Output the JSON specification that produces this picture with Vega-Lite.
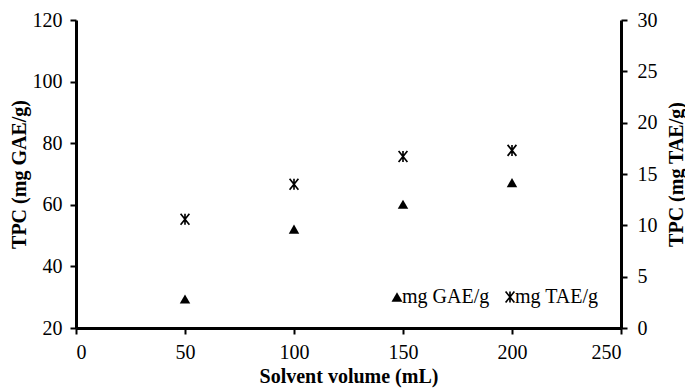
{
  "$schema": "https://vega.github.io/schema/vega-lite/v6.json",
  "width": 545,
  "height": 308,
  "autosize": {"type": "none"},
  "padding": {"left": 76, "top": 20, "right": 64, "bottom": 61},
  "background": "white",
  "config": {
    "font": "Times New Roman, Liberation Serif, serif",
    "view": {"stroke": null},
    "axis": {
      "grid": false,
      "domainColor": "black",
      "domainWidth": 3,
      "tickColor": "black",
      "tickWidth": 2,
      "tickSize": 6,
      "labelFont": "Times New Roman, Liberation Serif, serif",
      "labelFontSize": 20,
      "labelColor": "black",
      "titleFont": "Times New Roman, Liberation Serif, serif",
      "titleFontSize": 20,
      "titleFontWeight": "bold",
      "titleColor": "black"
    },
    "legend": {"labelFont": "Times New Roman, Liberation Serif, serif"}
  },
  "data": {
    "values": [
      {"vol": 50, "value": 29.4, "series": "mg GAE/g"},
      {"vol": 100, "value": 52.1, "series": "mg GAE/g"},
      {"vol": 150, "value": 60.2, "series": "mg GAE/g"},
      {"vol": 200, "value": 67.2, "series": "mg GAE/g"},
      {"vol": 50, "value": 10.6, "series": "mg TAE/g"},
      {"vol": 100, "value": 14.0, "series": "mg TAE/g"},
      {"vol": 150, "value": 16.7, "series": "mg TAE/g"},
      {"vol": 200, "value": 17.3, "series": "mg TAE/g"}
    ]
  },
  "encoding": {
    "x": {
      "field": "vol",
      "type": "quantitative",
      "scale": {"domain": [0, 250], "nice": false},
      "axis": {"values": [0, 50, 100, 150, 200, 250], "title": "Solvent volume (mL)", "labelPadding": 8, "titlePadding": 4}
    }
  },
  "layer": [
    {
      "transform": [{"filter": "datum.series === 'mg GAE/g'"}],
      "mark": {"type": "point", "filled": true, "fill": "black", "strokeWidth": 0, "opacity": 1, "size": 110},
      "encoding": {
        "y": {
          "field": "value",
          "type": "quantitative",
          "scale": {"domain": [20, 120], "nice": false, "zero": false},
          "axis": {"values": [20, 40, 60, 80, 100, 120], "title": "TPC (mg GAE/g)", "labelPadding": 8, "titlePadding": 3}
        },
        "shape": {
          "field": "series",
          "type": "nominal",
          "scale": {"domain": ["mg GAE/g", "mg TAE/g"], "range": ["triangle-up", "M-0.15,-1L0.15,-1L0.15,1L-0.15,1ZM-0.683,-1.094L0.917,0.906L0.683,1.094L-0.917,-0.906ZM-0.683,1.094L-0.917,0.906L0.683,-1.094L0.917,-0.906Z"]},
          "legend": {
            "orient": "none",
            "legendX": 311,
            "legendY": 267,
            "direction": "horizontal",
            "title": null,
            "labelFont": "Times New Roman, Liberation Serif, serif",
            "labelFontSize": 20,
            "labelColor": "black",
            "symbolSize": 120,
            "symbolFillColor": "black",
            "symbolStrokeWidth": 0,
            "symbolOpacity": 1,
            "labelOffset": -5,
            "columnPadding": 10,
            "encode": {
              "symbols": {"update": {"fill": {"value": "black"}, "strokeWidth": {"value": 0}, "opacity": {"value": 1}}}
            }
          }
        }
      }
    },
    {
      "transform": [{"filter": "datum.series === 'mg TAE/g'"}],
      "mark": {"type": "point", "filled": true, "fill": "black", "strokeWidth": 0, "opacity": 1, "size": 121},
      "encoding": {
        "y": {
          "field": "value",
          "type": "quantitative",
          "scale": {"domain": [0, 30], "nice": false},
          "axis": {"orient": "right", "values": [0, 5, 10, 15, 20, 25, 30], "title": "TPC (mg TAE/g)", "titleAngle": 270, "titleBaseline": "top", "labelPadding": 10, "titlePadding": 9}
        },
        "shape": {"field": "series", "type": "nominal"}
      }
    }
  ],
  "resolve": {"scale": {"y": "independent"}}
}
